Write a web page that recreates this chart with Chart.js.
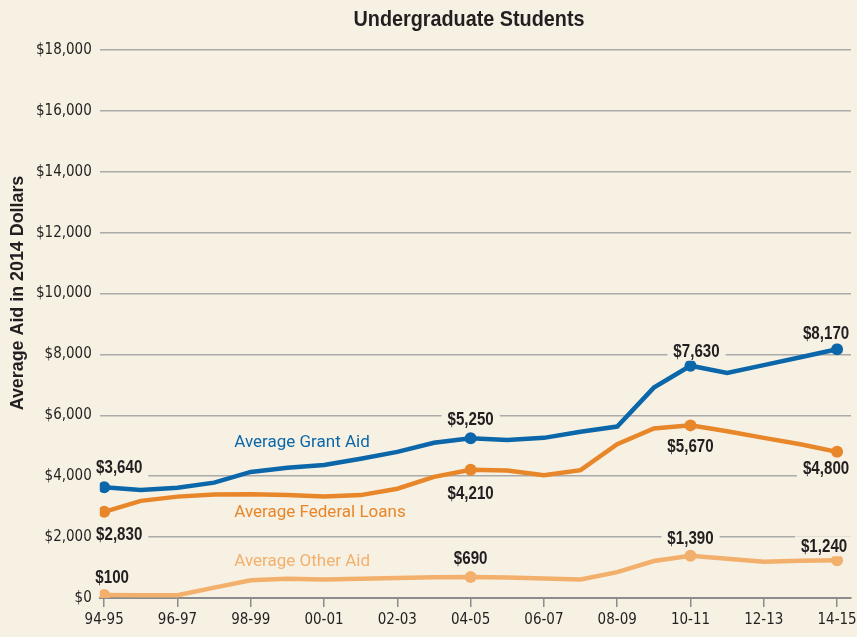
<!DOCTYPE html>
<html>
<head>
<meta charset="utf-8">
<script src="https://cdn.jsdelivr.net/npm/chart.js@4"></script>
<style>
  html, body { margin: 0; padding: 0; background: #f7f1e4; }
  #wrap { width: 857px; height: 637px; }
</style>
</head>
<body>
<div id="wrap"><canvas id="chart" width="857" height="637"></canvas></div>
<script>
const years = ['94-95', '95-96', '96-97', '97-98', '98-99', '99-00', '00-01', '01-02', '02-03', '03-04',
  '04-05', '05-06', '06-07', '07-08', '08-09', '09-10', '10-11', '11-12', '12-13', '13-14', '14-15'];

const grantAid = [3640, 3550, 3620, 3790, 4140, 4280, 4370, 4575, 4800, 5100,
  5250, 5190, 5260, 5460, 5630, 6910, 7630, 7390, 7650, 7910, 8170];
const federalLoans = [2830, 3190, 3330, 3400, 3410, 3380, 3330, 3380, 3590, 3980,
  4210, 4190, 4030, 4200, 5050, 5570, 5670, 5480, 5260, 5050, 4800];
const otherAid = [100, 90, 90, 340, 580, 630, 610, 630, 660, 680,
  690, 670, 640, 610, 850, 1215, 1390, 1290, 1190, 1220, 1240];

const labeledIdx = [0, 10, 16, 20];
const yTicks = [0, 2000, 4000, 6000, 8000, 10000, 12000, 14000, 16000, 18000];

const BG = '#f7f1e4';
const BLUE = '#0b67a9';
const ORANGE = '#e8862a';
const LIGHT = '#f2b06c';
const INK = '#231f20';
const COND = "'DejaVu Sans Condensed', 'Liberation Sans Narrow', sans-serif";
const BOLD = "bold 18px 'Liberation Sans', Arial, sans-serif";

const fmt = v => '$' + v.toLocaleString('en-US');

// label offsets for the highlighted points: [dx, dy] per series
const labelPos = {
  grant: [[15, -20], [0, -19], [6, -15], [-11, -16]],
  loans: [[15, 22], [0, 23], [0, 21], [-11, 16]],
  other: [[8, -18], [0, -19], [0, -18], [-13, -14]]
};

const series = [
  { key: 'grant', name: 'Average Grant Aid', values: grantAid, color: BLUE, at: [3.55, 5090] },
  { key: 'loans', name: 'Average Federal Loans', values: federalLoans, color: ORANGE, at: [3.55, 2790] },
  { key: 'other', name: 'Average Other Aid', values: otherAid, color: LIGHT, at: [3.55, 1180] }
];

// squeezed text, stands in for the condensed face of the original
function narrowText(ctx, txt, x, y, sx, rot) {
  ctx.save();
  ctx.translate(x, y);
  if (rot) ctx.rotate(rot);
  ctx.scale(sx, 1);
  ctx.fillText(txt, 0, 0);
  ctx.restore();
}

const annotate = {
  id: 'annotate',
  afterDatasetsDraw(chart) {
    const ctx = chart.ctx;
    const xs = chart.scales.x, ys = chart.scales.y, area = chart.chartArea;
    ctx.save();
    series.forEach(s => {
      // series name
      ctx.font = "17px Roboto, 'Open Sans', sans-serif";
      ctx.fillStyle = s.color;
      ctx.textAlign = 'left';
      ctx.textBaseline = 'middle';
      ctx.fillText(s.name, xs.getPixelForValue(s.at[0]), ys.getPixelForValue(s.at[1]));

      // value labels with a background box that breaks the grid lines
      ctx.font = BOLD;
      ctx.textAlign = 'center';
      labeledIdx.forEach((idx, k) => {
        const off = labelPos[s.key][k];
        const px = xs.getPixelForValue(idx) + off[0];
        const py = ys.getPixelForValue(s.values[idx]) + off[1];
        const txt = fmt(s.values[idx]);
        const w = ctx.measureText(txt).width * 0.84;
        ctx.save();
        ctx.beginPath();
        ctx.rect(area.left, area.top - 20, area.right - area.left, area.bottom - area.top + 20);
        ctx.clip();
        ctx.fillStyle = BG;
        ctx.fillRect(px - w / 2 - 6, py - 10, w + 12, 20);
        ctx.restore();
        ctx.fillStyle = INK;
        narrowText(ctx, txt, px, py + 1, 0.84);
      });
    });
    ctx.restore();
  },
  afterDraw(chart) {
    const ctx = chart.ctx, area = chart.chartArea;
    ctx.save();
    ctx.fillStyle = INK;
    ctx.textAlign = 'center';
    ctx.textBaseline = 'middle';
    ctx.font = "bold 22px 'Liberation Sans', Arial, sans-serif";
    narrowText(ctx, 'Undergraduate Students', 469, 20, 0.9);
    ctx.font = "bold 19px 'Liberation Sans', Arial, sans-serif";
    narrowText(ctx, 'Average Aid in 2014 Dollars', 18, 293, 0.94, -Math.PI / 2);
    ctx.restore();
  }
};

const datasets = series.map(s => ({
  label: s.name,
  data: s.values.map((v, i) => ({ x: i, y: v })),
  borderColor: s.color,
  backgroundColor: s.color,
  borderWidth: 4.5,
  tension: 0,
  pointRadius: s.values.map((v, i) => labeledIdx.includes(i) ? 6 : 0),
  pointHoverRadius: 0,
  pointBorderWidth: 0
})).reverse();

new Chart(document.getElementById('chart'), {
  type: 'line',
  data: { datasets },
  options: {
    responsive: false,
    animation: false,
    layout: { padding: { left: 28, right: 5, top: 50, bottom: 4 } },
    plugins: {
      legend: { display: false },
      tooltip: { enabled: false }
    },
    scales: {
      x: {
        type: 'linear',
        min: -0.12,
        max: 20.38,
        afterBuildTicks: axis => { axis.ticks = years.map((y, i) => ({ value: i })).filter(t => t.value % 2 === 0); },
        // let the last label hang into the margin, like the original
        afterFit: axis => { axis.paddingRight = 0; },
        ticks: {
          callback: v => years[v],
          color: INK,
          font: { family: COND, size: 15 },
          padding: 4,
          maxRotation: 0,
          autoSkip: false
        },
        grid: { drawOnChartArea: false, drawTicks: true, tickLength: 9, color: '#8c8c8c', lineWidth: 1.5 },
        border: { display: true, color: '#8c8c8c', width: 2 }
      },
      y: {
        min: 0,
        max: 18000,
        afterBuildTicks: axis => { axis.ticks = yTicks.map(v => ({ value: v })); },
        ticks: {
          callback: v => fmt(v),
          color: INK,
          font: { family: COND, size: 15 },
          padding: 8
        },
        grid: {
          drawTicks: false,
          color: c => c.tick && c.tick.value === 0 ? 'rgba(0,0,0,0)' : '#aaaaaa',
          lineWidth: 1.5
        },
        border: { display: false }
      }
    }
  },
  plugins: [annotate]
});
</script>
</body>
</html>
